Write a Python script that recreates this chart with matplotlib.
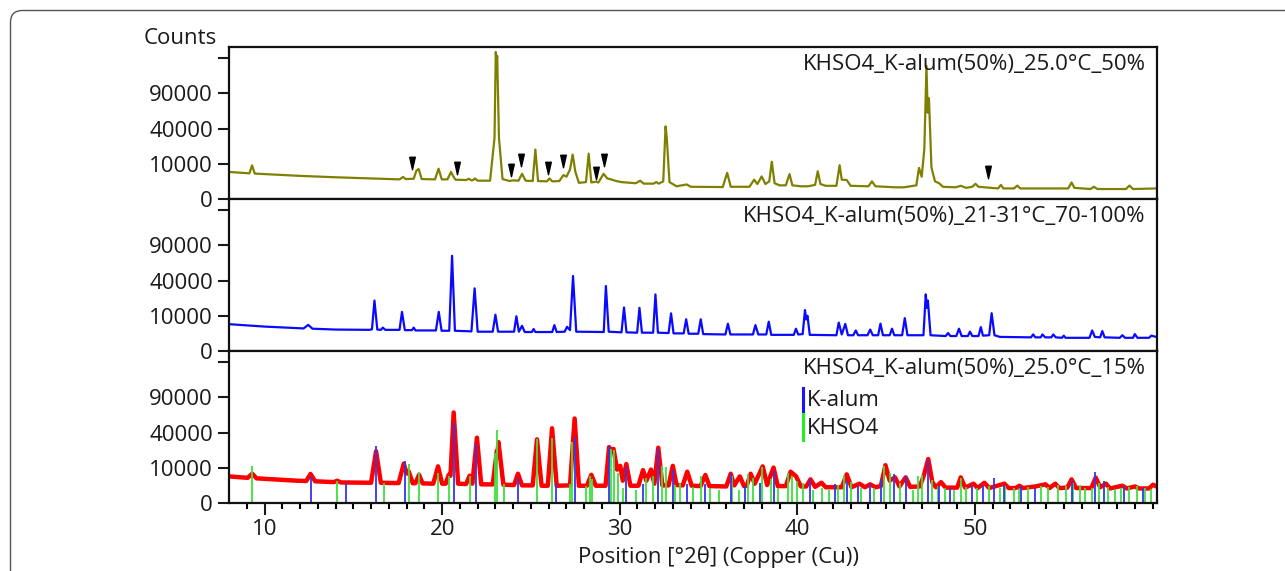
import numpy as np
import matplotlib
matplotlib.use("Agg")
import matplotlib.pyplot as plt
from matplotlib.patches import FancyBboxPatch
from matplotlib.transforms import IdentityTransform

plt.rcParams['font.family'] = ['Open Sans', 'DejaVu Sans']

# ---- data (2theta in degrees, intensity in counts) ----
titles = ["KHSO4_K-alum(50%)_25.0°C_50%",
          "KHSO4_K-alum(50%)_21-31°C_70-100%",
          "KHSO4_K-alum(50%)_25.0°C_15%"]

# top pattern (olive)
top_x = [8.0, 9.15, 9.3, 9.45, 12.0, 14.0, 17.0, 17.6, 17.8, 17.95, 18.4, 18.55, 18.68, 18.85,
         19.6, 19.8, 19.98, 20.3, 20.5, 20.62, 20.75, 21.35, 21.5, 21.65, 21.75, 21.85, 22.0,
         22.7, 22.95, 23.02, 23.07, 23.1, 23.2, 23.4, 23.8, 24.0, 24.3, 24.5, 24.7, 25.1, 25.25,
         25.4, 25.9, 26.04, 26.2, 26.6, 26.83, 27.0, 27.2, 27.35, 27.5, 27.7, 28.1, 28.25, 28.4,
         28.66, 28.8, 29.09, 29.3, 29.5, 29.8, 30.1, 30.9, 31.15, 31.35, 31.9, 32.06, 32.2, 32.45,
         32.58, 32.65, 32.8, 33.2, 33.77, 34.0, 35.8, 36.05, 36.25, 37.3, 37.57, 37.75, 37.99,
         38.2, 38.42, 38.56, 38.72, 39.0, 39.35, 39.56, 39.72, 40.2, 40.6, 41.0, 41.15, 41.3,
         41.6, 42.2, 42.38, 42.5, 42.78, 43.0, 44.0, 44.2, 44.4, 45.5, 46.0, 46.7, 46.85, 47.0,
         47.15, 47.27, 47.34, 47.41, 47.55, 47.75, 47.98, 48.2, 48.9, 49.2, 49.5, 49.85, 50.03,
         50.2, 51.3, 51.46, 51.6, 52.2, 52.38, 52.55, 55.25, 55.44, 55.6, 56.5, 56.7, 56.9, 58.5,
         58.7, 58.9, 60.3]
top_y = [5900, 5300, 9100, 5200, 4300, 3800, 3200, 3100, 3900, 3200, 3300, 6500, 7200, 3200,
         3100, 7400, 3100, 3100, 5900, 4200, 3000, 2900, 3300, 2800, 2900, 3400, 2700,
         2700, 30000, 174000, 150000, 165000, 30000, 3200, 2600, 2800, 2700, 5100, 2700, 2600, 19700,
         2600, 2500, 3400, 2500, 2600, 4600, 4000, 7000, 15900, 6000, 2100, 2300, 16600, 2200,
         2400, 2200, 5100, 3400, 3100, 2600, 2300, 2000, 2700, 1900, 1900, 2300, 1900, 2500,
         42400, 30000, 2300, 1300, 1700, 1200, 1150, 5500, 1200, 1200, 3000, 1800, 4100,
         1800, 2500, 11200, 2000, 1500, 1500, 5000, 1500, 1300, 1300, 1600, 6200, 1800,
         1400, 1400, 9200, 3000, 2900, 1400, 1300, 2500, 1300, 1100, 1100, 1500, 7800, 4000,
         20000, 142800, 60000, 81900, 8000, 2500, 2000, 1200, 1100, 1400, 1000, 1200, 1850,
         1200, 900, 1600, 900, 900, 1450, 900, 900, 2200, 1000, 800, 1200, 800, 800,
         1450, 800, 900]

# arrow marks on the top pattern
arrow_x = [18.33, 20.86, 23.9, 24.46, 25.98, 26.82, 28.68, 29.13, 50.73]
arrow_y = [10600, 7900, 6900, 12500, 7900, 11900, 5550, 12500, 5980]

# middle pattern (blue)
mid_x = [8.0, 10.0, 12.2, 12.46, 12.7, 14.0, 15.9, 16.05, 16.19, 16.35, 16.55, 16.66, 16.8, 17.6,
         17.74, 17.9, 18.3, 18.4, 18.5, 19.65, 19.81, 19.97, 20.4, 20.56, 20.72, 21.65, 21.83,
         22.0, 22.85, 23.0, 23.15, 24.05, 24.18, 24.32, 24.5, 24.65, 25.05, 25.15, 25.25, 26.2,
         26.32, 26.45, 26.9, 27.03, 27.2, 27.37, 27.55, 29.1, 29.22, 29.38, 30.1, 30.24, 30.38,
         30.98, 31.11, 31.25, 31.88, 32.01, 32.15, 32.75, 32.89, 33.03, 33.6, 33.74, 33.88, 34.42,
         34.56, 34.7, 35.95, 36.09, 36.23, 37.5, 37.64, 37.8, 38.25, 38.39, 38.53, 39.8, 39.92,
         40.05, 40.3, 40.43, 40.5, 40.57, 40.7, 42.2, 42.33, 42.5, 42.7, 42.85, 43.15, 43.29,
         43.42, 43.95, 44.1, 44.25, 44.55, 44.68, 44.82, 45.2, 45.33, 45.46, 45.9, 46.05, 46.2,
         47.1, 47.23, 47.29, 47.35, 47.5, 47.88, 48.35, 48.49, 48.62, 48.95, 49.1, 49.25, 49.6,
         49.72, 49.85, 50.2, 50.33, 50.45, 50.8, 50.94, 51.0, 51.1, 51.4, 53.15, 53.28, 53.4,
         53.7, 53.8, 53.95, 54.3, 54.41, 54.55, 54.9, 55.0, 55.1, 56.45, 56.6, 56.75, 57.05,
         57.17, 57.3, 58.15, 58.3, 58.45, 58.9, 59.0, 59.15, 59.8, 59.93, 60.3]
mid_y = [5800, 4800, 4100, 5500, 4000, 3700, 3600, 3800, 20500, 3700, 3600, 4400, 3600, 3600,
         12300, 3500, 3500, 4400, 3400, 3400, 12300, 3300, 3300, 73000, 3300, 3100, 31600,
         3000, 3000, 10600, 3000, 3000, 9700, 3000, 5100, 2900, 2900, 3900, 2900, 2900,
         5400, 2900, 3000, 4700, 3500, 45300, 3000, 2900, 34000, 3000, 2800, 15300, 2800,
         2700, 15000, 2700, 2700, 25800, 2700, 2600, 11400, 2500, 2500, 8100, 2400, 2400,
         8100, 2300, 2200, 6000, 2200, 2200, 5400, 2200, 2200, 6900, 2100, 2100, 4000,
         2200, 2300, 13500, 8000, 10000, 2100, 2000, 6500, 2200, 5900, 2000, 2000, 3400,
         2000, 2000, 3700, 2000, 2000, 6000, 2000, 2000, 4000, 2000, 2000, 8700, 2000,
         2000, 25800, 15000, 20500, 2000, 1900, 1800, 2600, 1800, 1800, 4000, 1800, 1800,
         3000, 1800, 1800, 4600, 1900, 2000, 11500, 7000, 2000, 1600, 1500, 2200, 1500,
         1500, 2200, 1500, 1500, 2200, 1500, 1400, 1900, 1400, 1400, 3400, 1600, 1500,
         3200, 1500, 1400, 2000, 1400, 1400, 2300, 1400, 1400, 1900, 1500]

# bottom pattern (red, measured)
bot_x = [8.0, 9.05, 9.31, 9.55, 11.83, 12.35, 12.59, 12.85, 13.9, 14.09, 14.3, 16.0, 16.28, 16.55,
         17.55, 17.84, 18.0, 18.12, 18.35, 18.5, 18.7, 18.9, 19.5, 19.77, 20.0, 20.2, 20.37,
         20.47, 20.65, 20.9, 21.35, 21.55, 21.7, 21.96, 22.2, 22.85, 23.08, 23.12, 23.17, 23.45,
         24.05, 24.27, 24.5, 25.1, 25.34, 25.6, 25.95, 26.19, 26.45, 27.2, 27.46, 27.7, 28.15,
         28.4, 28.65, 29.2, 29.4, 29.55, 29.65, 29.85, 30.03, 30.17, 30.37, 30.6, 31.05, 31.31,
         31.5, 31.76, 31.95, 32.17, 32.4, 32.75, 32.99, 33.2, 33.55, 33.8, 34.05, 34.55, 34.82,
         35.05, 36.0, 36.25, 36.45, 36.76, 37.0, 37.15, 37.37, 37.6, 38.05, 38.3, 38.66, 38.9,
         39.35, 39.62, 39.93, 40.2, 40.5, 40.74, 41.0, 41.36, 41.6, 42.5, 42.78, 43.05, 43.5,
         43.8, 44.1, 44.4, 44.7, 44.96, 45.2, 45.5, 45.75, 46.1, 46.35, 46.9, 47.13, 47.37,
         47.6, 47.8, 48.09, 48.35, 49.0, 49.2, 49.45, 49.92, 50.15, 50.53, 50.8, 51.66, 51.9,
         52.3, 52.5, 52.7, 53.39, 53.97, 54.2, 54.52, 54.75, 55.2, 55.44, 55.7, 56.55, 56.8,
         57.05, 57.38, 57.6, 58.3, 58.55, 59.0, 59.25, 59.8, 60.03, 60.3]
bot_y = [5700, 5100, 6900, 4900, 4000, 3900, 6800, 3800, 3500, 4000, 3400, 3300, 21600, 3300,
         3200, 12500, 7000, 8000, 3100, 3200, 6400, 3100, 3000, 10800, 3000, 3000, 6400,
         6000, 66000, 3000, 2900, 6000, 3000, 34300, 2800, 2800, 21600, 20000, 29900, 2700,
         2600, 6900, 2500, 2500, 32600, 2400, 2400, 45000, 2400, 2500, 57500, 2400, 2400,
         6400, 2400, 2400, 25200, 22000, 23600, 9000, 11100, 4000, 12200, 2400, 2400, 8700,
         4000, 9000, 3000, 24600, 2500, 2500, 11100, 2600, 2500, 7900, 2400, 2300, 6300,
         2300, 2200, 6900, 2500, 5700, 2300, 2400, 6900, 3000, 10800, 2600, 10100, 2300,
         2300, 7900, 5700, 2200, 2200, 4500, 2100, 3300, 2000, 2000, 6600, 2000, 3000,
         2000, 2800, 2000, 2300, 11500, 4000, 5300, 2200, 5300, 2100, 2200, 6300, 15600,
         3500, 2000, 3500, 1900, 1900, 5300, 1900, 3000, 1800, 3300, 1800, 3000, 1800,
         1800, 2400, 1800, 2200, 2800, 1800, 3000, 1800, 1900, 4500, 1800, 1800, 5200,
         2000, 3000, 1700, 2400, 1700, 2200, 1700, 1700, 2700, 2000]

# reference sticks
kalum_pos = [12.59, 14.56, 16.28, 17.9, 20.65, 21.93, 24.27, 26.43, 27.46, 29.41, 30.37, 31.31,
             32.17, 32.99, 33.8, 34.82, 36.25, 37.07, 37.89, 38.66, 40.74, 42.13, 42.78, 43.39,
             44.1, 44.72, 45.44, 46.11, 47.38, 47.98, 48.59, 49.83, 50.44, 51.05, 51.66, 52.58,
             53.4, 55.44, 56.77, 57.28, 58.4, 59.48]
kalum_int = [5260, 3380, 26000, 14000, 51200, 28300, 5010, 3190, 35400, 25700, 10200, 2960,
             23700, 8670, 2960, 2960, 6950, 2260, 3280, 8300, 4490, 2960, 3870, 2260,
             2960, 4490, 6620, 5850, 14800, 2260, 1850, 2540, 2750, 4900, 2750, 2260,
             1850, 3870, 7940, 3870, 2260, 1850]
khso4_pos = [9.31, 14.09, 16.75, 18.12, 18.7, 19.77, 20.4, 21.55, 23.0, 23.1, 23.5, 25.34, 26.19,
             27.2, 27.3, 28.1, 28.35, 28.45, 29.52, 29.7, 29.9, 30.2, 30.9, 31.5, 31.9, 32.4,
             32.6, 33.1, 33.4, 34.1, 34.6, 35.1, 35.6, 36.3, 36.7, 37.2, 37.5, 38.0, 38.5, 38.9,
             39.5, 39.7, 40.0, 40.3, 40.9, 41.4, 41.8, 42.3, 42.6, 43.0, 43.6, 44.3, 44.9, 45.2,
             45.8, 46.5, 46.8, 47.0, 47.6, 47.9, 48.3, 48.8, 49.2, 49.5, 50.1, 50.8, 51.4, 51.7,
             52.2, 52.5, 53.0, 53.7, 54.1, 54.7, 55.1, 55.5, 55.9, 56.2, 56.6, 57.0, 57.5, 57.9,
             58.2, 58.7, 59.1, 59.6, 59.9]
khso4_int = [10800, 3970, 3190, 12300, 7530, 7240, 5680, 5990, 20300, 42900, 2960, 33300, 34300,
             2960, 29900, 2370, 5680, 4500, 23700, 22200, 7440, 1850, 1450, 5170, 5850, 11100,
             10200, 2750, 3280, 2000, 5850, 1850, 1450, 5850, 1450, 6950, 5170, 10200, 4490, 1850,
             7440, 5850, 3870, 3280, 1450, 1850, 1450, 2750, 6300, 3620, 1850, 1850, 11100, 7440,
             3280, 1450, 5850, 6300, 4120, 2260, 1850, 1450, 5170, 2000, 1850, 2260, 1850, 2260,
             1850, 1680, 2000, 2260, 2000, 2750, 2260, 3280, 2540, 1850, 1850, 3280, 2000, 1680,
             1850, 2000, 2260, 1850, 1680]

y_ticks = [0, 10000, 40000, 90000, 160000]
y_labels = ['0', '10000', '40000', '90000', '']
x_major = [10, 20, 30, 40, 50]

# ---- figure ----
fig = plt.figure(figsize=(12.85, 5.71), dpi=100)
fig.patch.set_facecolor('white')

left, width = 229 / 1285, 928 / 1285
ph = 152 / 571
b0 = 1 - 503 / 571
axes = [fig.add_axes([left, b0 + 2 * ph, width, ph]),
        fig.add_axes([left, b0 + ph, width, ph]),
        fig.add_axes([left, b0, width, ph])]

sq = (lambda v: np.sqrt(np.clip(v, 0, None)), lambda v: np.square(v))
txt = '#1a1a1a'
fs = 16

for i, ax in enumerate(axes):
    ax.set_yscale('function', functions=sq)
    ax.set_xlim(8, 60.25)
    ax.set_ylim(0, 186000)
    ax.set_yticks(y_ticks)
    ax.set_yticklabels(y_labels)
    ax.yaxis.set_minor_locator(plt.NullLocator())
    ax.tick_params(axis='y', direction='out', length=8, width=1.5, pad=3.5,
                   labelsize=fs, colors=txt)
    for s in ax.spines.values():
        s.set_linewidth(1.6)
        s.set_color('#111111')
    ax.text(0.988, 0.885, titles[i], transform=ax.transAxes, ha='right', va='center',
            fontsize=fs, color=txt)
    if i < 2:
        ax.set_xticks([])
    else:
        ax.set_xticks(x_major)
        ax.set_xticks(np.arange(9, 61), minor=True)
        ax.tick_params(axis='x', which='major', direction='out', length=8.5, width=1.5,
                       labelsize=fs, colors=txt, pad=3)
        ax.tick_params(axis='x', which='minor', direction='out', length=4.5, width=1.5)

# top panel
axes[0].plot(top_x, top_y, color='#808000', lw=1.6)
arrow_marker = [(-0.45, 1.0), (0.45, 1.0), (0.0, -1.0), (-0.45, 1.0)]
axes[0].plot(arrow_x, arrow_y, ls='none', marker=arrow_marker, ms=9, color='black')

# middle panel
axes[1].plot(mid_x, mid_y, color='#0a0aff', lw=1.6)

# bottom panel
axes[2].plot(bot_x, bot_y, color='#ff0000', lw=3.2, solid_joinstyle='round')
axes[2].vlines(khso4_pos, 0, khso4_int, color='#3ee03e', lw=1.3)
axes[2].vlines(kalum_pos, 0, kalum_int, color='#3535ee', lw=1.3)

# stick legend
lx = (803 - 229) / 928
axes[2].plot([lx, lx], [0.757, 0.586], transform=axes[2].transAxes, color='#1515ff', lw=2.2)
axes[2].plot([lx, lx], [0.586, 0.414], transform=axes[2].transAxes, color='#22ee22', lw=2.2)
axes[2].text(lx + 0.004, 0.675, 'K-alum', transform=axes[2].transAxes, ha='left', va='center',
             fontsize=fs, color=txt)
axes[2].text(lx + 0.004, 0.49, 'KHSO4', transform=axes[2].transAxes, ha='left', va='center',
             fontsize=fs, color=txt)

fig.text(180 / 1285, 1 - 38 / 571, 'Counts', ha='center', va='center', fontsize=fs, color=txt)
fig.text(719 / 1285, 1 - 557 / 571, 'Position [°2θ] (Copper (Cu))', ha='center', va='center',
         fontsize=fs, color=txt)

# outer rounded frame (only top and left edges are inside the picture)
frame = FancyBboxPatch((10.5, -40), 1330, 600.5, boxstyle='round,pad=0,rounding_size=12',
                       transform=IdentityTransform(), fill=False, ec='#555555', lw=1.0)
fig.add_artist(frame)

fig.savefig('out.png', dpi=100)
